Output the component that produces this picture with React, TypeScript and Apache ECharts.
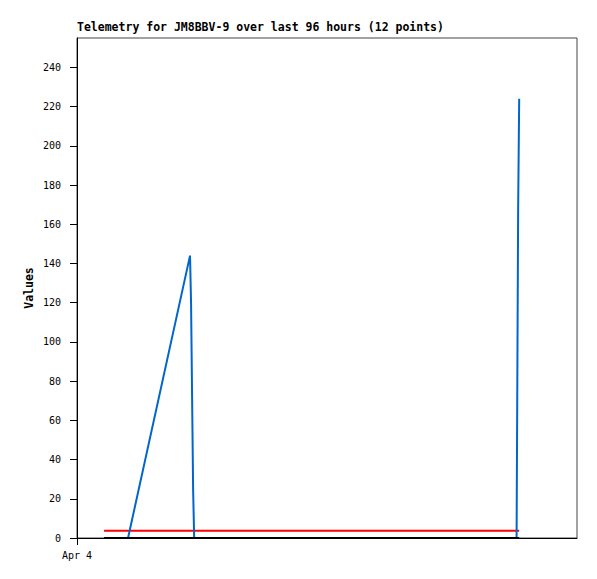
import React, { useEffect, useRef } from "react";
import * as echarts from "echarts";

const titleText = "Telemetry for JM8BBV-9 over last 96 hours (12 points)";
const yAxisName = "Values";
const startTime = Date.UTC(2024, 3, 4, 0, 0, 0);
const rangeHours = 96;
// sample times, hours after Apr 4 00:00
const hoursFromStart = [5.2, 9.8, 21.7, 21.9, 22.1, 22.3, 22.5, 50.0, 84.4, 84.5, 84.7, 84.9];
const blueValues = [0, 0, 144, 120, 72, 24, 0, 0, 0, 56, 168, 224];
const redValues = [3.7, 3.7, 3.7, 3.7, 3.7, 3.7, 3.7, 3.7, 3.7, 3.7, 3.7, 3.7];
const blackValues = [0, 0, 0, 0, 0, 0, 0, 0, 0, 0, 0, 0];
const yTicks = [0, 20, 40, 60, 80, 100, 120, 140, 160, 180, 200, 220, 240];
const xTickLabels = ["Apr 4"];
const yMax = 255;

const MONTHS = ["Jan", "Feb", "Mar", "Apr", "May", "Jun", "Jul", "Aug", "Sep", "Oct", "Nov", "Dec"];
const FONT = "'DejaVu Sans Mono', 'Liberation Mono', monospace";

export default function App() {
  const ref = useRef<HTMLDivElement>(null);
  useEffect(() => {
    if (!ref.current) return;
    const chart = echarts.init(ref.current, null, { renderer: "svg" });
    const times = hoursFromStart.map((h) => startTime + h * 3600 * 1000);
    const mk = (vals: number[]) => times.map((t, i) => [t, vals[i]]);
    chart.setOption({
      animation: false,
      backgroundColor: "#ffffff",
      title: {
        text: titleText,
        left: 77,
        top: 21,
        padding: 0,
        textStyle: { fontFamily: FONT, fontSize: 11.5, fontWeight: "bold", color: "#000" },
      },
      grid: {
        left: 77,
        top: 38,
        right: 20,
        bottom: 41,
        show: true,
        borderColor: "#444",
        borderWidth: 1,
        backgroundColor: "#fff",
      },
      xAxis: {
        type: "value",
        min: startTime,
        max: startTime + rangeHours * 3600 * 1000,
        splitLine: { show: false },
        axisLine: { show: true, onZero: false, lineStyle: { color: "#000", width: 1 } },
        axisTick: { show: true, inside: false, length: 7, customValues: [startTime], lineStyle: { color: "#000" } },
        axisLabel: {
          customValues: [startTime],
          margin: 12,
          fontFamily: FONT,
          fontSize: 10,
          color: "#000",
          formatter: (v: number) => {
            const d = new Date(v);
            const s = MONTHS[d.getUTCMonth()] + " " + d.getUTCDate();
            return xTickLabels.includes(s) ? s : "";
          },
        },
      },
      yAxis: {
        type: "value",
        min: 0,
        max: yMax,
        name: yAxisName,
        nameLocation: "middle",
        nameGap: 42,
        nameMoveOverlap: false,
        nameTextStyle: { fontFamily: FONT, fontSize: 11.5, fontWeight: "bold", color: "#000" },
        splitLine: { show: false },
        axisLine: { show: true, lineStyle: { color: "#000", width: 1 } },
        axisTick: { show: true, inside: false, length: 7, customValues: yTicks, lineStyle: { color: "#000" } },
        axisLabel: {
          customValues: yTicks,
          margin: 16,
          fontFamily: FONT,
          fontSize: 10,
          color: "#000",
        },
      },
      series: [
        {
          type: "line",
          data: mk(redValues),
          symbol: "none",
          z: 2,
          lineStyle: { color: "#ff0000", width: 2 },
        },
        {
          type: "line",
          data: mk(blueValues),
          symbol: "none",
          z: 3,
          lineStyle: { color: "#0066cc", width: 2 },
        },
        {
          type: "line",
          data: mk(blackValues),
          symbol: "none",
          z: 4,
          lineStyle: { color: "#000000", width: 2 },
        },
      ],
    });
    return () => chart.dispose();
  }, []);
  return <div ref={ref} style={{ width: 597, height: 579, position: "absolute", left: 0, top: 0 }} />;
}
